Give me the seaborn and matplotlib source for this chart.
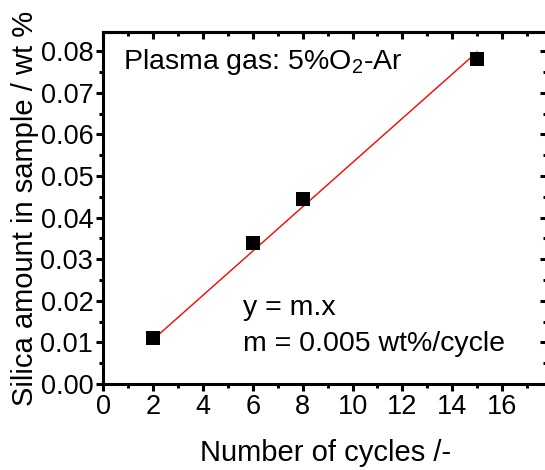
import numpy as np
import pandas as pd
import matplotlib
matplotlib.use("Agg")
import matplotlib.pyplot as plt
import seaborn as sns
from matplotlib.ticker import MultipleLocator

# data
cycles = [2, 6, 8, 15]
silica = [0.011, 0.0338, 0.0445, 0.078]

xlabel = "Number of cycles /-"
ylabel = "Silica amount in sample / wt %"

sns.set_style("ticks", {"axes.edgecolor": "black", "text.color": "black",
                        "axes.labelcolor": "black", "xtick.color": "black",
                        "ytick.color": "black"})
plt.rcParams["font.family"] = ["Liberation Sans", "DejaVu Sans"]
plt.rcParams["mathtext.fontset"] = "custom"
plt.rcParams["mathtext.rm"] = "Liberation Sans"
plt.rcParams["mathtext.it"] = "Liberation Sans:italic"

df = pd.DataFrame({"x": cycles, "y": silica})

# fit through origin, y = m.x
x_arr = np.array(cycles, dtype=float)
y_arr = np.array(silica)
m = np.sum(x_arr * y_arr) / np.sum(x_arr ** 2)
fit = pd.DataFrame({"x": [min(cycles), max(cycles)]})
fit["y"] = m * fit["x"]

fig = plt.figure(figsize=(5.45, 4.70), dpi=100)
ax = fig.add_axes([0.189, 0.183, 0.815, 0.749])

sns.lineplot(data=fit, x="x", y="y", color="red", linewidth=1.0, ax=ax, zorder=2)
sns.scatterplot(data=df, x="x", y="y", marker="s", s=90, color="black",
                edgecolor="black", linewidth=0, ax=ax, zorder=3)

ax.set_xlim(0, 17.8)
ax.set_ylim(0, 0.0846)
ax.xaxis.set_major_locator(MultipleLocator(2))
ax.xaxis.set_minor_locator(MultipleLocator(1))
ax.yaxis.set_major_locator(MultipleLocator(0.01))
ax.yaxis.set_minor_locator(MultipleLocator(0.005))
ax.yaxis.set_major_formatter(matplotlib.ticker.FormatStrFormatter("%.2f"))

for s in ax.spines.values():
    s.set_linewidth(2.2)
    s.set_color("black")

ax.tick_params(which="both", direction="out", width=2.2, labelsize=19.5,
               top=False, right=False, pad=2, colors="black")
ax.tick_params(which="major", length=5)
ax.tick_params(which="minor", length=3)

# inward ticks on the top and right side
sec_x = ax.secondary_xaxis("top")
sec_x.xaxis.set_major_locator(MultipleLocator(2))
sec_x.xaxis.set_minor_locator(MultipleLocator(1))
sec_x.tick_params(which="both", direction="in", width=2.2, labeltop=False, colors="black")
sec_x.tick_params(which="major", length=5)
sec_x.tick_params(which="minor", length=3)
sec_y = ax.secondary_yaxis("right")
sec_y.yaxis.set_major_locator(MultipleLocator(0.01))
sec_y.yaxis.set_minor_locator(MultipleLocator(0.005))
sec_y.tick_params(which="both", direction="in", width=2.2, labelright=False, colors="black")
sec_y.tick_params(which="major", length=5)
sec_y.tick_params(which="minor", length=3)
for sa in (sec_x, sec_y):
    for s in sa.spines.values():
        s.set_linewidth(2.2)
        s.set_color("black")

ax.set_xlabel(xlabel, fontsize=21, labelpad=14, color="black")
ax.set_ylabel(ylabel, fontsize=21, labelpad=1, color="black")

ax.text(0.8, 0.0775, r"Plasma gas: 5%O$_2$-Ar", fontsize=20.5, va="center", color="black")
ax.text(5.6, 0.0183, "y = m.x", fontsize=20.5, va="center", color="black")
ax.text(5.6, 0.0097, "m = 0.005 wt%/cycle", fontsize=20.5, va="center", color="black")

fig.savefig("out.png", dpi=100)
